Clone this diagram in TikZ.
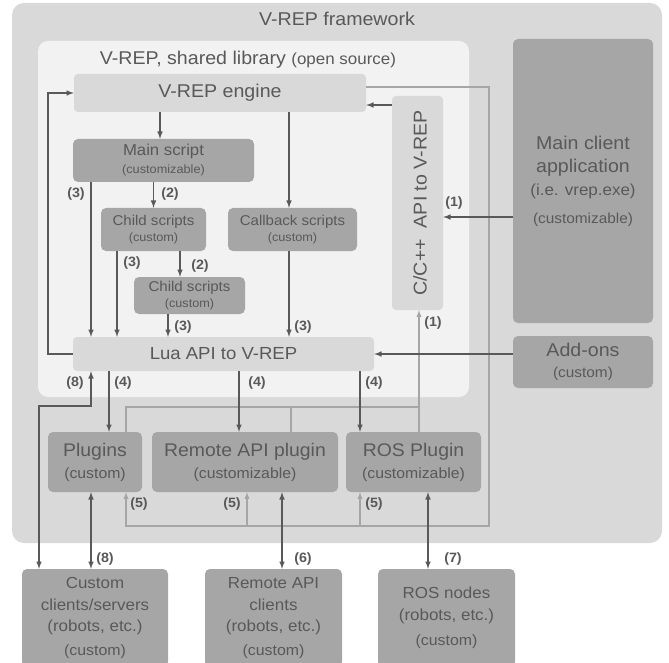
\documentclass[tikz,border=0pt]{standalone}
\usepackage{fontspec}
\setmainfont{Liberation Sans}[FakeStretch=1.06]
\definecolor{txt}{HTML}{595959}
\definecolor{arrc}{HTML}{595959}
\definecolor{lineg}{HTML}{A6A6A6}
\definecolor{frameg}{HTML}{D9D9D9}
\definecolor{libg}{HTML}{F2F2F2}
\definecolor{lightbox}{HTML}{D9D9D9}
\definecolor{darkbox}{HTML}{A6A6A6}
\newcommand{\fsz}[2]{\fontsize{#1}{#2}\selectfont}

\begin{document}
\begin{tikzpicture}[x=1pt, y=-1pt, >=latex,
    fwbox/.style={fill=frameg, rounded corners=12pt},
    libbox/.style={fill=libg, rounded corners=10pt},
    lbox/.style={fill=lightbox, rounded corners=4pt, text=txt, inner sep=0pt},
    dbox/.style={fill=darkbox, rounded corners=5pt, text=txt, inner sep=0pt, align=center},
    dk/.style={draw=arrc, line width=1.5pt},
    lt/.style={draw=lineg, line width=1.3pt},
    num/.style={font={\bfseries\fsz{13.5}{16}}, text=txt, inner sep=1pt}]
    % 1. Vùng hiển thị
    \useasboundingbox (0,0) rectangle (669,663);
    \clip (0,0) rectangle (669,663);

    % 2. Nền framework và thư viện
    \node[fwbox, minimum width=650pt, minimum height=540pt] (fw) at (337,273) {};
    \node[font=\fsz{18.5}{22}, text=txt] (fwtitle) at (337,19) {V-REP framework};
    \node[libbox, minimum width=431pt, minimum height=356pt] (lib) at (253.5,219) {};
    \node[font=\fsz{18.5}{22}, text=txt] (libtitle) at (248,60)
        {V-REP, shared library {\fsz{16}{19}(open source)}};

    % 3. Engine và các API
    \node[lbox, minimum width=292pt, minimum height=38pt, font=\fsz{18.5}{22}] (engine) at (220,93) {V-REP engine};
    \node[lbox, minimum width=51pt, minimum height=214pt] (capi) at (417.5,203) {};
    \node[rotate=90, font=\fsz{18.5}{22}, text=txt] (capitxt) at (420,203) {C/C++~ API to V-REP};
    \node[lbox, minimum width=301pt, minimum height=34pt, font=\fsz{17.5}{21}] (lua) at (223.5,354) {Lua API to V-REP};

    % 4. Các script
    \node[dbox, minimum width=181pt, minimum height=43pt, font=\fsz{15.8}{18}] (ms) at (163.5,160.5)
        {Main script\\{\fsz{12}{14}(customizable)}};
    \node[dbox, minimum width=105pt, minimum height=43pt, font=\fsz{14.2}{16}] (c1) at (153.5,229.5)
        {Child scripts\\{\fsz{12}{14}(custom)}};
    \node[dbox, minimum width=129pt, minimum height=43pt, font=\fsz{14.2}{16}] (cb) at (292.5,229.5)
        {Callback scripts\\{\fsz{12}{14}(custom)}};
    \node[dbox, minimum width=111pt, minimum height=37pt, font=\fsz{14.2}{16}] (c2) at (189.5,295.5)
        {Child scripts\\{\fsz{12}{14}(custom)}};

    % 5. Cột bên phải
    \node[dbox, minimum width=140pt, minimum height=284pt, font=\fsz{18.5}{23}] (app) at (583,181)
        {Main client\\application\\{\fsz{16}{19}(i.e. vrep.exe)}\\[5pt]{\fsz{14.5}{17}(customizable)}};
    \node[dbox, minimum width=140pt, minimum height=52pt, font=\fsz{18.5}{21}] (addons) at (583,362)
        {Add-ons\\{\fsz{14.5}{17}(custom)}};

    % 6. Các plugin
    \node[dbox, minimum width=94pt, minimum height=60pt, font=\fsz{18.3}{22}] (plug) at (95,462)
        {Plugins\\{\fsz{14.9}{18}(custom)}};
    \node[dbox, minimum width=186pt, minimum height=60pt, font=\fsz{18.3}{22}] (rplug) at (245,462)
        {Remote API plugin\\{\fsz{14.9}{18}(customizable)}};
    \node[dbox, minimum width=135pt, minimum height=60pt, font=\fsz{18.3}{22}] (rosplug) at (413.5,462)
        {ROS Plugin\\{\fsz{14.9}{18}(customizable)}};

    % 7. Client bên ngoài
    \node[dbox, minimum width=146pt, minimum height=98pt, font=\fsz{16}{21.5}] (cust) at (95,618)
        {Custom\\clients/servers\\(robots, etc.)\\[2pt]{\fsz{15}{18}(custom)}};
    \node[dbox, minimum width=137pt, minimum height=98pt, font=\fsz{16}{21.5}] (rcl) at (273.5,618)
        {Remote API\\clients\\(robots, etc.)\\[2pt]{\fsz{15}{18}(custom)}};
    \node[dbox, minimum width=137pt, minimum height=98pt, font=\fsz{16}{22}] (rosn) at (446.5,618)
        {ROS nodes\\(robots, etc.)\\[3pt]{\fsz{15}{18}(custom)}};

    % 8. Các điểm dóng
    \coordinate (kMain) at (160,0);
    \coordinate (kCb) at (289,0);
    \coordinate (kL1) at (91,0);
    \coordinate (kL2) at (117,0);
    \coordinate (kC2) at (180,0);
    \coordinate (kL3) at (168,0);
    \coordinate (kP1) at (109,0);
    \coordinate (kP2) at (239,0);
    \coordinate (kP3) at (360,0);
    \coordinate (kR5) at (247,0);
    \coordinate (kRm) at (291,0);
    \coordinate (kRc) at (282,0);
    \coordinate (kRn) at (428,0);
    \coordinate (kEx) at (39,406);
    \coordinate (kTop) at (419,407);
    \coordinate (kTl) at (126,407);
    \coordinate (kBot) at (489,526);
    \coordinate (kBl) at (126,526);
    \coordinate (yCapi) at (0,105);
    \coordinate (yApp) at (0,217);
    \coordinate (yEng) at (0,87);

    % 9. Đường xám nhạt
    \draw[lt] (plug.north -| kTl) -- (kTl) -- (kTop);
    \draw[lt, ->] (rosplug.north -| kTop) -- (capi.south -| kTop);
    \draw[lt] (rplug.north -| kRm) -- (kRm |- kTop);
    \draw[lt, ->] (engine.east |- yEng) -| (kBot) -- (kBl) -- (plug.south -| kBl);
    \draw[lt, ->] (kBot -| kR5) -- (rplug.south -| kR5);
    \draw[lt, ->] (kBot -| kP3) -- (rosplug.south -| kP3);

    % 10. Mũi tên đậm
    \draw[dk, ->] (lua.west) -- ++(-25,0) |- (engine.west);
    \draw[dk, ->] (engine.south -| kMain) -- (ms.north -| kMain);
    \draw[dk, ->] (engine.south -| kCb) -- (cb.north -| kCb);
    \draw[dk, ->] (ms.south -| kL1) -- (lua.north -| kL1);
    \draw[dk, ->] (ms.south -| c1.north) -- (c1.north);
    \draw[dk, ->] (c1.south -| kL2) -- (lua.north -| kL2);
    \draw[dk, ->] (c1.south -| kC2) -- (c2.north -| kC2);
    \draw[dk, ->] (c2.south -| kL3) -- (lua.north -| kL3);
    \draw[dk, ->] (cb.south -| kCb) -- (lua.north -| kCb);
    \draw[dk, ->] (capi.west |- yCapi) -- (engine.east |- yCapi);
    \draw[dk, ->] (app.west |- yApp) -- (capi.east |- yApp);
    \draw[dk, ->] (addons.west |- lua.east) -- (lua.east);
    \draw[dk, ->] (lua.south -| kP1) -- (plug.north -| kP1);
    \draw[dk, ->] (lua.south -| kP2) -- (rplug.north -| kP2);
    \draw[dk, ->] (lua.south -| kP3) -- (rosplug.north -| kP3);
    \draw[dk, <->] (lua.south -| kL1) |- (kEx) -- (cust.north -| kEx);
    \draw[dk, <->] (plug.south -| kL1) -- (cust.north -| kL1);
    \draw[dk, <->] (rplug.south -| kRc) -- (rcl.north -| kRc);
    \draw[dk, <->] (rosplug.south -| kRn) -- (rosn.north -| kRn);

    % 11. Nhãn số
    \node[num] (n3a) at (76,194) {(3)};
    \node[num] (n2a) at (170,194) {(2)};
    \node[num] (n3b) at (132,263) {(3)};
    \node[num] (n2b) at (200,266) {(2)};
    \node[num] (n3c) at (183,327) {(3)};
    \node[num] (n3d) at (303,327) {(3)};
    \node[num] (n1a) at (454,203) {(1)};
    \node[num] (n1b) at (433,323) {(1)};
    \node[num] (n8a) at (75,383) {(8)};
    \node[num] (n4a) at (123,383) {(4)};
    \node[num] (n4b) at (257,383) {(4)};
    \node[num] (n4c) at (374,383) {(4)};
    \node[num] (n5a) at (139,504) {(5)};
    \node[num] (n5b) at (232,504) {(5)};
    \node[num] (n5c) at (374,504) {(5)};
    \node[num] (n8b) at (105,559) {(8)};
    \node[num] (n6) at (303,559) {(6)};
    \node[num] (n7) at (453,559) {(7)};
\end{tikzpicture}
\end{document}
